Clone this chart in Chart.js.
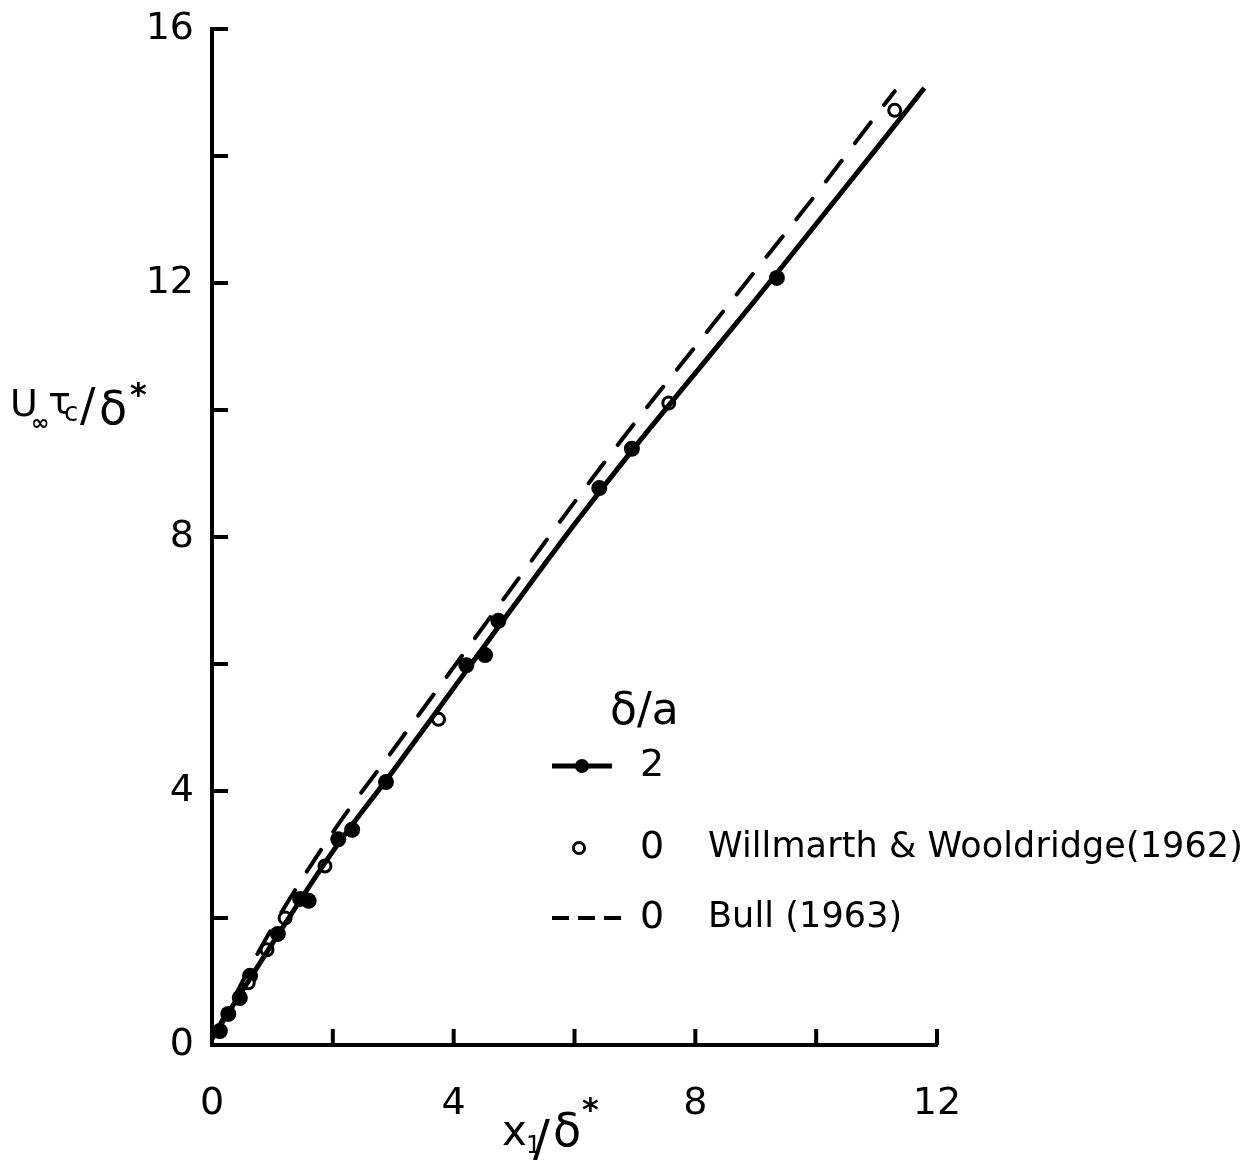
<!DOCTYPE html>
<html>
<head>
<meta charset="utf-8">
<script src="https://cdn.jsdelivr.net/npm/chart.js@4"></script>
<style>
  html, body { margin: 0; padding: 0; background: #fff; }
  #wrap { width: 1254px; height: 1160px; }
</style>
</head>
<body>
<div id="wrap"><canvas id="chart" width="1254" height="1160"></canvas></div>
<script>
// delta/a = 2 (filled circles)
const filledX = [0.13, 0.27, 0.46, 0.63, 1.09, 1.46, 1.60, 2.09, 2.32, 2.88, 4.21, 4.52, 4.74, 6.41, 6.95, 9.35];
const filledY = [0.22, 0.49, 0.74, 1.09, 1.75, 2.30, 2.27, 3.24, 3.39, 4.14, 5.98, 6.14, 6.68, 8.77, 9.39, 12.08];

// delta/a = 0, Willmarth & Wooldridge (1962) (open circles)
const openX = [0.60, 0.91, 1.21, 1.87, 3.75, 7.56, 11.30];
const openY = [0.98, 1.50, 2.00, 2.82, 5.13, 10.11, 14.72];

// faired curve through the delta/a = 2 points
const fitX = [0, 1, 2, 3, 4, 5, 6, 7, 8, 9, 10, 11, 11.79];
const fitY = [0.1, 1.6, 3.05, 4.32, 5.62, 6.92, 8.2, 9.42, 10.58, 11.74, 12.93, 14.12, 15.07];

// Bull (1963), dashed
const bullX = [0, 1, 2, 3, 4, 5, 6, 7, 8, 9, 10, 11, 11.3];
const bullY = [0.1, 1.85, 3.35, 4.65, 5.95, 7.25, 8.55, 9.8, 11.0, 12.2, 13.4, 14.65, 15.02];

const xLabels = [0, 4, 8, 12];
const yLabels = [0, 4, 8, 12, 16];

const legendTitle = 'δ/a';
const legendValues = ['2', '0', '0'];
const legendNames = ['', 'Willmarth & Wooldridge(1962)', 'Bull (1963)'];

const FONT = '"DejaVu Sans", sans-serif';

function pts(xs, ys) {
    return xs.map((x, i) => ({ x: x, y: ys[i] }));
}

// inward tick marks, titles and the hand-lettered legend
const decorations = {
    id: 'decorations',
    afterDraw(chart) {
        const ctx = chart.ctx;
        const xs = chart.scales.x;
        const ys = chart.scales.y;
        const area = chart.chartArea;
        ctx.save();
        ctx.strokeStyle = '#000';
        ctx.lineWidth = 4;
        ctx.lineCap = 'butt';
        xs.ticks.forEach(t => {
            const px = xs.getPixelForValue(t.value);
            ctx.beginPath();
            ctx.moveTo(px, area.bottom);
            ctx.lineTo(px, area.bottom - 16);
            ctx.stroke();
        });
        ys.ticks.forEach(t => {
            const py = ys.getPixelForValue(t.value);
            ctx.beginPath();
            ctx.moveTo(area.left, py);
            ctx.lineTo(area.left + 16, py);
            ctx.stroke();
        });

        ctx.fillStyle = '#000';
        ctx.textBaseline = 'alphabetic';
        ctx.textAlign = 'left';

        // y title  U∞ τc / δ*
        ctx.font = '38px ' + FONT;
        ctx.fillText('U', 10, 416);
        ctx.font = 'bold 22px ' + FONT;
        ctx.fillText('∞', 31, 430);
        ctx.font = '38px ' + FONT;
        ctx.fillText('τ', 48, 414);
        ctx.font = '26px ' + FONT;
        ctx.fillText('c', 64, 421);
        ctx.font = '46px ' + FONT;
        ctx.fillText('/', 80, 421);
        ctx.fillText('δ', 99, 424);
        ctx.font = 'bold 32px ' + FONT;
        ctx.fillText('*', 130, 405);

        // x title  x1 / δ*
        ctx.font = '42px ' + FONT;
        ctx.fillText('x', 502, 1145);
        ctx.font = '24px ' + FONT;
        ctx.fillText('1', 526, 1153);
        ctx.font = '50px ' + FONT;
        ctx.fillText('/', 533, 1155);
        ctx.font = '46px ' + FONT;
        ctx.fillText('δ', 553, 1146);
        ctx.font = 'bold 32px ' + FONT;
        ctx.fillText('*', 582, 1120);

        // legend
        ctx.font = '44px ' + FONT;
        ctx.fillText(legendTitle, 610, 724);

        const rowsY = [766, 848, 918];
        ctx.textBaseline = 'middle';
        rowsY.forEach((ry, i) => {
            ctx.font = '38px ' + FONT;
            ctx.fillText(legendValues[i], 640, ry);
            if (legendNames[i]) {
                ctx.font = '35px ' + FONT;
                ctx.letterSpacing = '0.1px';
                ctx.fillText(legendNames[i], 708, ry);
                ctx.letterSpacing = '0px';
            }
        });

        // row 1: solid line with filled dot
        ctx.lineWidth = 5;
        ctx.beginPath();
        ctx.moveTo(552, rowsY[0]);
        ctx.lineTo(612, rowsY[0]);
        ctx.stroke();
        ctx.beginPath();
        ctx.arc(582, rowsY[0], 7, 0, Math.PI * 2);
        ctx.fill();

        // row 2: open circle
        ctx.lineWidth = 3;
        ctx.beginPath();
        ctx.arc(579, rowsY[1], 5.5, 0, Math.PI * 2);
        ctx.stroke();

        // row 3: dashed
        ctx.lineWidth = 4;
        ctx.setLineDash([17, 9]);
        ctx.beginPath();
        ctx.moveTo(552, rowsY[2]);
        ctx.lineTo(626, rowsY[2]);
        ctx.stroke();
        ctx.setLineDash([]);
        ctx.restore();
    }
};

const config = {
    type: 'scatter',
    data: {
        datasets: [
            {
                label: 'Bull (1963)',
                data: pts(bullX, bullY),
                showLine: true,
                borderColor: '#000',
                borderWidth: 4,
                borderDash: [26, 22],
                borderCapStyle: 'round',
                pointRadius: 0,
                cubicInterpolationMode: 'monotone'
            },
            {
                label: 'faired curve',
                data: pts(fitX, fitY),
                showLine: true,
                borderColor: '#000',
                borderWidth: 5,
                pointRadius: 0,
                cubicInterpolationMode: 'monotone'
            },
            {
                label: 'Willmarth & Wooldridge (1962)',
                data: pts(openX, openY),
                pointRadius: 6,
                pointBorderWidth: 3,
                pointBackgroundColor: '#fff',
                pointBorderColor: '#000'
            },
            {
                label: 'δ/a = 2',
                data: pts(filledX, filledY),
                pointRadius: 8,
                pointBorderWidth: 0,
                pointBackgroundColor: '#000',
                pointBorderColor: '#000'
            }
        ]
    },
    options: {
        responsive: false,
        animation: false,
        devicePixelRatio: 1,
        layout: { padding: { left: 0, top: 28, right: 317, bottom: 0 } },
        plugins: {
            legend: { display: false },
            tooltip: { enabled: false }
        },
        scales: {
            x: {
                type: 'linear',
                min: 0,
                max: 12,
                afterFit: s => { s.height = 115; },
                grid: { display: false },
                border: { display: true, color: '#000', width: 4 },
                ticks: {
                    stepSize: 2,
                    padding: 32,
                    color: '#000',
                    font: { family: FONT, size: 38, lineHeight: 1 },
                    maxRotation: 0,
                    autoSkip: false,
                    callback: v => xLabels.includes(v) ? String(v) : ''
                }
            },
            y: {
                type: 'linear',
                min: 0,
                max: 16,
                afterFit: s => { s.width = 212; },
                grid: { display: false },
                border: { display: true, color: '#000', width: 4 },
                ticks: {
                    stepSize: 2,
                    padding: 10,
                    color: '#000',
                    font: { family: FONT, size: 38, lineHeight: 1 },
                    autoSkip: false,
                    callback: v => yLabels.includes(v) ? String(v) : ''
                }
            }
        }
    },
    plugins: [decorations]
};

new Chart(document.getElementById('chart'), config);
</script>
</body>
</html>
